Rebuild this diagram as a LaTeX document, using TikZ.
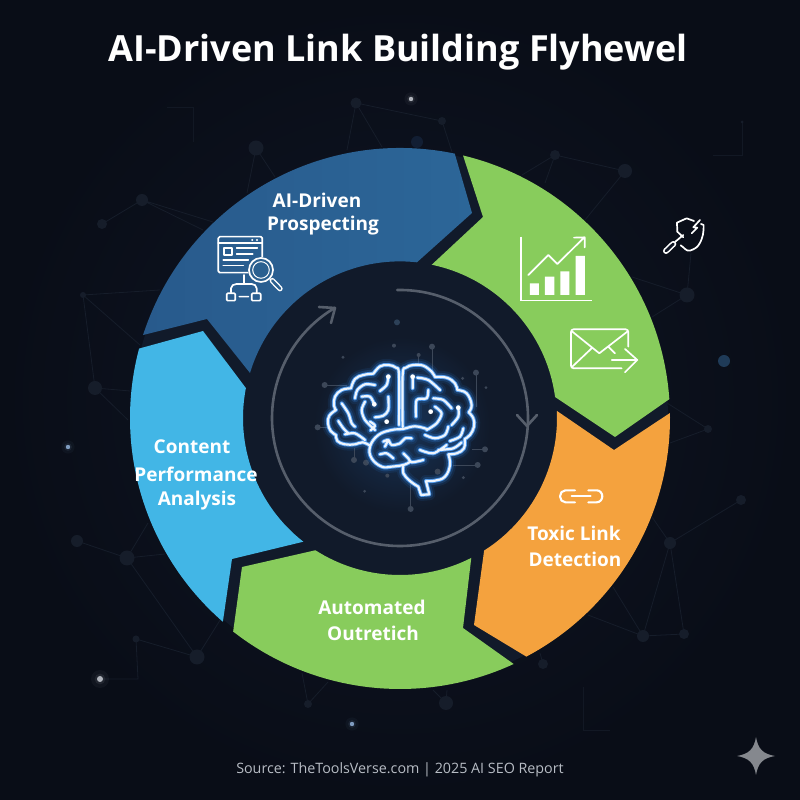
\documentclass[tikz,border=0pt]{standalone}
\usepackage{fontspec}
\setmainfont{Open Sans}
\definecolor{bgout}{HTML}{090D17}
\definecolor{bgin}{HTML}{101625}
\definecolor{disc}{HTML}{111A2A}
\definecolor{segdark}{HTML}{2A6090}
\definecolor{segdarka}{HTML}{2C6698}
\definecolor{segdarkb}{HTML}{285A8C}
\definecolor{seglight}{HTML}{42B6E6}
\definecolor{seggreen}{HTML}{88CC5C}
\definecolor{segorange}{HTML}{F4A23E}
\definecolor{netline}{HTML}{161D2A}
\definecolor{netdot}{HTML}{161D2A}
\definecolor{ringgrey}{HTML}{565E6B}
\definecolor{circ}{HTML}{3C4758}
\definecolor{glowblue}{HTML}{2E86E8}
\definecolor{srctext}{HTML}{B8BDC5}
\definecolor{sparkle}{HTML}{85888E}
\definecolor{softblue}{HTML}{1F3B58}
\definecolor{softblueb}{HTML}{121E33}
\definecolor{skydot}{HTML}{7F9CC0}
\definecolor{palegrey}{HTML}{B0B4BC}
\tikzset{
  netl/.style={draw=netline,line width=0.8pt},
  iconline/.style={draw=white,line width=1.7pt,line cap=round,line join=round},
  seglabel/.style={text=white,font=\bfseries\fontsize{19}{23}\selectfont,inner sep=0pt},
  circl/.style={draw=circ,line width=0.8pt},
  ringline/.style={draw=ringgrey,line width=2.6pt,line cap=round,line join=round},
  brainpart/.style={line cap=round,line join=round,fill=none}
}
\newcommand{\netdotat}[3]{\fill[netdot] (#1,#2) circle (#3pt);}
\newcommand{\brightdot}[4]{%
  \fill[#4,opacity=.05] (#1,#2) circle ({#3*3pt});
  \fill[#4,opacity=.10] (#1,#2) circle ({#3*1.8pt});
  \fill[#4] (#1,#2) circle (#3pt);}
\newcommand{\brainpaths}{%
  plot[smooth,tension=.6] coordinates{(237,210)(237,60)(228,38)(205,30)(180,34)(160,56)}
  plot[smooth,tension=.7] coordinates{(160,56)(130,60)(105,72)(93,100)}
  plot[smooth,tension=.7] coordinates{(93,100)(65,105)(45,125)(42,152)(48,165)}
  plot[smooth,tension=.7] coordinates{(48,165)(28,182)(24,205)(32,228)(48,240)}
  plot[smooth,tension=.7] coordinates{(48,240)(52,258)(75,268)(105,268)(128,262)(150,272)}
  plot[smooth,tension=.6] coordinates{(248,215)(248,60)(258,38)(280,30)(310,32)(335,50)(345,66)}
  plot[smooth,tension=.7] coordinates{(345,66)(380,68)(405,85)(412,105)}
  plot[smooth,tension=.7] coordinates{(412,105)(440,115)(455,150)(446,172)}
  plot[smooth,tension=.7] coordinates{(446,172)(460,190)(462,215)(450,240)(434,252)}
  plot[smooth,tension=.7] coordinates{(434,252)(432,280)(410,295)(385,298)}
  plot[smooth,tension=.7] coordinates{(385,298)(390,330)(375,365)(345,377)(318,378)}
  (318,378) -- (328,418) -- (303,420) -- (295,395)
  plot[smooth,tension=.7] coordinates{(295,395)(270,378)(250,355)(250,335)}
  plot[smooth,tension=.7] coordinates{(320,222)(285,214)(248,222)(215,225)(175,240)(150,275)(155,310)(185,335)(215,335)(250,330)(268,322)}
  plot[smooth] coordinates{(205,65)(200,90)(180,108)}
  plot[smooth] coordinates{(165,90)(135,88)(112,105)(105,130)}
  plot[smooth] coordinates{(125,125)(150,125)(163,148)}
  plot[smooth] coordinates{(135,140)(125,165)(135,195)(165,225)}
  plot[smooth] coordinates{(205,125)(205,165)(190,182)(165,187)}
  plot[smooth] coordinates{(65,145)(85,175)(95,205)(105,215)}
  plot[smooth] coordinates{(55,198)(70,220)(85,235)}
  plot[smooth] coordinates{(75,238)(105,235)(135,255)}
  plot[smooth] coordinates{(150,200)(165,212)(152,226)}
  (278,65) -- (278,100)
  plot[smooth] coordinates{(292,68)(325,75)(360,105)}
  plot[smooth] coordinates{(325,105)(320,130)(290,135)(288,185)}
  plot[smooth] coordinates{(340,130)(370,135)(395,160)}
  plot[smooth] coordinates{(345,155)(365,175)(350,205)(320,225)}
  plot[smooth] coordinates{(415,158)(415,185)(395,210)}
  plot[smooth] coordinates{(385,215)(375,240)(345,250)(315,240)}
  plot[smooth] coordinates{(430,220)(420,245)(390,258)}
  plot[smooth] coordinates{(300,285)(340,295)(380,270)}
  plot[smooth] coordinates{(355,285)(400,280)(425,262)}
  plot[smooth] coordinates{(190,260)(205,255)(215,270)(240,265)(255,250)(275,250)}
  plot[smooth] coordinates{(205,255)(195,275)}
  plot[smooth] coordinates{(180,298)(200,295)(220,310)}
  plot[smooth] coordinates{(250,295)(265,310)(275,322)(310,315)}
}
\begin{document}
\begin{tikzpicture}[x=1pt,y=1pt]
\useasboundingbox (0,0) rectangle (800,800);
\shade[inner color=bgin,outer color=bgout] (0,0) rectangle (800,800);

\begin{scope}[shift={(0pt,800pt)},y=-1pt]
  \draw[netl] (247,193)--(256,148)--(275,177);
  \draw[netl] (213,222)--(142,200)--(203,230) (142,200)--(102,224);
  \draw[netl] (347,150)--(356,103)--(382,147) (356,103)--(442,121)--(452,152);
  \draw[netl] (160,290)--(83,295)--(140,345) (83,295)--(95,388)--(130,391) (95,388)--(128,420);
  \draw[netl,draw=netline!70!bgout] (167,107)--(193,107)--(193,142);
  \draw[netl] (522,175)--(555,155)--(625,171)--(585,220) (555,155)--(545,183);
  \draw[netl] (632,277)--(687,295)--(652,317) (687,295)--(691,253);
  \draw[netl,draw=netline!70!bgout] (742,122)--(742,155)--(713,155);
  \draw[netl] (77,541)--(127,558)--(148,523) (127,558)--(165,554) (127,558)--(197,657)--(136,639)--(138,679)--(100,679) (197,657)--(222,617)--(240,570);
  \draw[netl] (302,673)--(308,704)--(328,682);
  \draw[netl] (741,500)--(670,543)--(652,517) (670,543)--(643,636)--(684,634)--(670,543) (613,587)--(643,636)--(588,615);
  \draw[netl] (670,443)--(708,429)--(667,403);
  \draw[netl] (543,664)--(540,653) (433,690)--(446,703)--(447,690);
  \draw[netl,draw=netline!70!bgout] (583,687)--(583,730)--(610,730);
  \netdotat{256}{148}{7.5}\netdotat{142}{200}{6}\netdotat{102}{224}{5}\netdotat{356}{103}{5.5}
  \netdotat{442}{121}{4}\netdotat{83}{295}{3}\netdotat{95}{388}{7}\netdotat{555}{155}{5}
  \netdotat{625}{171}{7}\netdotat{687}{295}{7.5}\netdotat{742}{122}{1.5}\netdotat{77}{541}{6}
  \netdotat{127}{558}{7.5}\netdotat{197}{657}{7.5}\netdotat{136}{639}{3.5}\netdotat{308}{704}{4}
  \netdotat{670}{543}{6}\netdotat{741}{500}{5}\netdotat{643}{636}{6}\netdotat{684}{634}{5}
  \netdotat{708}{429}{4}\netdotat{543}{664}{5}\netdotat{446}{703}{7}
  \brightdot{411}{99}{2.2}{palegrey}
  \brightdot{68}{447}{2.2}{skydot}
  \brightdot{352}{724}{2.2}{skydot}
  \brightdot{100}{679}{3}{palegrey}
  \fill[softblue] (724,361) circle (6pt);
  \fill[softblueb] (417,142) circle (6pt);
\end{scope}

\begin{scope}[shift={(400pt,382pt)}]
  \fill[disc] (0,0) circle (268pt);
  \shade[left color=segdarkb,right color=segdarka] (162.1:270) arc[start angle=162.1,end angle=78.3,radius=270]
    -- (72,205) -- (83.8:156.6) arc[start angle=83.8,end angle=163.3,radius=156.6]
    -- (-193,99) -- cycle;
  \fill[seggreen] (76.5:270) arc[start angle=76.5,end angle=4,radius=270]
    -- (215,-19) -- (7.7:156.5) arc[start angle=7.7,end angle=78.3,radius=156.5]
    -- (83,201) -- cycle;
  \fill[segorange] (1.06:270) arc[start angle=1.06,end angle=-62.1,radius=270]
    -- (74,-207) -- (-57.6:157) arc[start angle=-57.6,end angle=2.6,radius=157]
    -- (214,-32) -- cycle;
  \fill[seggreen] (232:271) arc[start angle=232,end angle=294.8,radius=271]
    -- (63,-210) -- (297:157) arc[start angle=297,end angle=237.4,radius=157]
    -- (-158,-149) -- cycle;
  \fill[seglight] (165.1:270) arc[start angle=165.1,end angle=229,radius=270]
    -- (-168,-141) -- (232:157) arc[start angle=232,end angle=169,radius=157]
    -- (-197,87) -- cycle;
  \draw[ringline] (91.3:128) arc[start angle=91.3,end angle=-239.4,radius=128];
\end{scope}

\begin{scope}[shift={(0pt,800pt)},y=-1pt]
  \draw[ringline] (319,307)--(335,308)--(331,323);
  \draw[ringline] (517,415)--(527,426)--(537,415);
  \shade[inner color=glowblue!24!disc,outer color=disc] (402,425) circle (88pt);

  \begin{scope}[shift={(260pt,-280pt)},x=0.3333pt,y=-0.3333pt]
    \draw[circl] (516,200)--(516,270) (476,225)--(476,250) (648,278)--(648,380)
      (194,315)--(260,315) (173,442)--(210,442) (282,540)--(282,505)
      (452,687)--(452,600) (653,555)--(580,555) (675,508)--(635,508);
    \foreach \px/\py/\pr in {516/200/3,476/225/2,402/197/2,249/232/1.6,608/295/1.6,648/278/3,678/323/1.5,194/315/3,173/442/3,282/540/3,318/548/3,382/587/2,314/634/1.5,452/687/3,610/593/1.6,653/555/3,675/508/3,533/575/3}
      \fill[circ] (\px,\py) circle (\pr pt);
    \fill[softblue!50!circ] (411,127) circle (3pt);
  \end{scope}

  \begin{scope}[shift={(320pt,-355pt)},x=0.3333pt,y=-0.3333pt]
    \draw[brainpart,glowblue,opacity=.10,line width=12pt] \brainpaths;
    \draw[brainpart,glowblue,opacity=.22,line width=8pt] \brainpaths;
    \draw[brainpart,glowblue!85!white,line width=4pt] \brainpaths;
    \draw[brainpart,white!92!glowblue,line width=2.2pt] \brainpaths;
    \foreach \px/\py in {205/65,163/148,200/200,278/65,332/170,415/158}
      \fill[white] (\px,\py) circle (2.4pt);
  \end{scope}

  \begin{scope}[shift={(130pt,-130pt)},x=0.3333pt,y=-0.3333pt]
    \draw[iconline,rounded corners=1.5pt] (265,320) rectangle (397,428);
    \draw[iconline] (265,340)--(397,340) (320,355)--(382,355) (320,372)--(368,372)
       (280,390)--(355,390) (280,407)--(340,407);
    \fill[white] (367,330) circle (1.1pt) (381,330) circle (1.1pt);
    \draw[iconline] (281,354) rectangle (305,375);
    \fill[segdark] (393,420) circle (13pt);
    \draw[iconline] (393,420) circle (12pt);
    \draw[draw=white,line width=1pt] (393,420) circle (8.3pt);
    \draw[white,line width=5.4pt,line cap=round] (427,452)--(450,476);
    \draw[segdark,line width=2.6pt,line cap=round] (427,452)--(450,476);
    \draw[iconline] (342,435)--(342,462) (303,488)--(303,475) to[out=90,in=180] (320,462)--(365,462) to[out=0,in=90] (380,475)--(380,488)
       (328,500)--(355,500);
    \draw[iconline,rounded corners=1pt] (290,490) rectangle (316,512);
    \draw[iconline,rounded corners=1pt] (365,490) rectangle (392,512);
  \end{scope}

  \begin{scope}[shift={(420pt,-150pt)},x=0.3333pt,y=-0.3333pt]
    \draw[iconline,line cap=butt,line join=miter] (303,260)--(303,452)--(517,452);
    \fill[white] (330,400) rectangle (357,435) (375,380) rectangle (403,435)
                 (421,364) rectangle (448,435) (467,318) rectangle (495,435);
    \draw[iconline] (325,375)--(385,315)--(412,342)--(490,265) (462,263)--(494,262)--(494,292);
    \draw[iconline] (605,655)--(461,655) to[out=180,in=-90] (453,647)--(453,546) to[out=90,in=180] (461,538)--(617,538) to[out=0,in=90] (625,546)--(625,590);
    \draw[iconline] (457,545)--(538,610)--(622,545) (457,650)--(515,595) (565,590)--(585,610);
    \draw[iconline] (575,630)--(650,630) (615,597)--(652,630)--(615,667);
    \draw[iconline] (790,262)--(772,245)--(771,218)--(800,205)--(822,213)
      (843,222)--(851,225) to[out=-90,in=60] (838,282) to[out=-120,in=20] (810,302) to[out=190,in=-30] (782,286);
    \draw[iconline] (840,210)--(820,232)--(832,233)--(815,250);
    \draw[white,line width=6pt,line cap=round] (738,303)--(760,282);
    \draw[bgin,line width=2.8pt,line cap=round] (738,303)--(760,282);
    \draw[iconline] (765,276)--(790,255);
  \end{scope}

  \begin{scope}[shift={(460pt,-400pt)},x=0.3333pt,y=-0.3333pt]
    \draw[iconline,line width=2.1pt] (345,271)--(316,271) to[out=180,in=90] (300,289) to[out=-90,in=180] (316,307)--(345,307);
    \draw[iconline,line width=2.1pt] (385,271)--(410,271) to[out=0,in=90] (427,289) to[out=-90,in=0] (410,307)--(385,307);
    \draw[iconline,line width=2.1pt] (335,289)--(392,289);
  \end{scope}

  \fill[sparkle] (756,737) .. controls (758,749) and (763,754) .. (775,756)
     .. controls (763,758) and (758,763) .. (756,775)
     .. controls (754,763) and (749,758) .. (737,756)
     .. controls (749,754) and (754,749) .. (756,737) -- cycle;

  \node[text=white,font=\bfseries\fontsize{36}{43}\selectfont,inner sep=0pt] (title) at (398,52) {AI-Driven Link Building Flyhewel};
  \node[seglabel] (t1a) at (317,200) {AI-Driven};
  \node[seglabel] (t1b) at (323,226) {Prospecting};
  \node[seglabel] (t2a) at (192,447) {Content};
  \node[seglabel] (t2b) at (196,474) {Performance};
  \node[seglabel] (t2c) at (197,501) {Analysis};
  \node[seglabel] (t3a) at (372,607) {Automated};
  \node[seglabel] (t3b) at (373,633) {Outretich};
  \node[seglabel] (t4a) at (574,533) {Toxic Link};
  \node[seglabel] (t4b) at (575,559) {Detection};
  \node[text=srctext,font=\fontsize{14.3}{17}\selectfont,inner sep=0pt] (src) at (400,770) {Source: TheToolsVerse.com | 2025 AI SEO Report};
\end{scope}
\end{tikzpicture}
\end{document}
